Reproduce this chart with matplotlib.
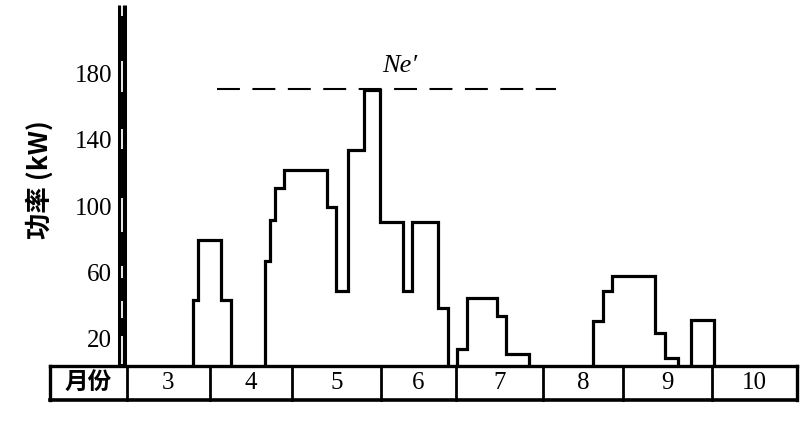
import matplotlib
matplotlib.use("Agg")
import matplotlib.pyplot as plt
from matplotlib.transforms import ScaledTranslation

# time axis in months (fractional), power in kW
B1_EDGES = [3.788, 3.848, 4.122, 4.242]
B1_VALUES = [40, 76, 40]

B2_EDGES = [4.648, 4.707, 4.767, 4.875, 5.388, 5.496, 5.639, 5.830,
            6.021, 6.296, 6.403, 6.713, 6.833]
B2_VALUES = [63, 88, 107, 118, 96, 45, 130, 166, 87, 45, 87, 35]

B3_EDGES = [6.940, 7.060, 7.418, 7.525, 7.800]
B3_VALUES = [10, 41, 30, 7]

B4_EDGES = [8.564, 8.684, 8.791, 9.304, 9.424, 9.579]
B4_VALUES = [27, 45, 54, 20, 5]

B5_EDGES = [9.734, 10.009]
B5_VALUES = [28]

NE_VALUE = 167
NE_SPAN = [4.075, 8.122]

TABLE_EDGES = [2.081, 3.0, 3.991, 4.970, 6.033, 6.928, 7.967, 8.922, 9.985, 11.0]
TABLE_LABELS = ["月份", "3", "4", "5", "6", "7", "8", "9", "10"]

Y_TICKS = [20, 60, 100, 140, 180]
AXIS_GAPS = [(1, 18), (29, 39), (53, 60), (81, 101), (131, 143), (165, 184), (211, 218)]

SERIF = ["Liberation Serif", "DejaVu Serif"]
CJK = ["Noto Sans CJK SC", "DejaVu Sans"]

fig = plt.figure(figsize=(8.01, 4.25), dpi=100)
ax = fig.add_axes([122 / 801, (425 - 366) / 425, (797 - 122) / 801, (366 - 5) / 425])
ax.set_xlim(2.9403, 11.0)
ax.set_ylim(0, 217.5)

for s in ["top", "right", "bottom"]:
    ax.spines[s].set_visible(False)
ax.spines["left"].set_linewidth(6.5)
ax.spines["left"].set_color("black")
ax.spines["left"].set_capstyle("butt")

# white slits in the thick axis bar
for lo, hi in AXIS_GAPS:
    ax.plot([0, 0], [lo, hi], color="white", lw=1.3,
            transform=ax.get_yaxis_transform(), clip_on=False, zorder=5,
            solid_capstyle="butt")

ax.set_xticks([])
ax.set_yticks(Y_TICKS)
ax.set_yticklabels([str(t) for t in Y_TICKS], fontfamily=SERIF, fontsize=18)
ax.tick_params(axis="y", length=0, pad=7)
offset = ScaledTranslation(0, -6 / 100, fig.dpi_scale_trans)
for lab in ax.get_yticklabels():
    lab.set_transform(lab.get_transform() + offset)

# load curve
for edges, vals in [(B1_EDGES, B1_VALUES), (B2_EDGES, B2_VALUES), (B3_EDGES, B3_VALUES),
                    (B4_EDGES, B4_VALUES), (B5_EDGES, B5_VALUES)]:
    ax.stairs(vals, edges, baseline=0, fill=False, color="black", lw=2.3,
              joinstyle="miter", zorder=3)

# installed capacity line
ax.plot(NE_SPAN, [NE_VALUE, NE_VALUE], color="black", lw=1.5, dashes=(11, 6))
ax.text(6.26, 181, "Ne\u2032", fontfamily=SERIF, fontstyle="italic", fontsize=19,
        ha="center", va="center")

# month table under the axis
t_bot = -20.5
kw = dict(color="black", clip_on=False, solid_capstyle="projecting")
ax.plot([TABLE_EDGES[0], TABLE_EDGES[-1]], [0, 0], lw=2.4, **kw)
ax.plot([TABLE_EDGES[0], TABLE_EDGES[-1]], [t_bot, t_bot], lw=2.6, **kw)
for i, e in enumerate(TABLE_EDGES):
    ax.plot([e, e], [0, t_bot], lw=2.4 if i in (0, len(TABLE_EDGES) - 1) else 2.0, **kw)
for i, lab in enumerate(TABLE_LABELS):
    cx = (TABLE_EDGES[i] + TABLE_EDGES[i + 1]) / 2
    fam = CJK if i == 0 else SERIF
    ax.text(cx, t_bot / 2, lab, fontfamily=fam, fontsize=18 if i else 17,
            ha="center", va="center", clip_on=False,
            fontweight="bold" if i == 0 else "normal")

fig.text(40 / 801, 1 - 180 / 425, "功率 (kW)", rotation=90, fontfamily=CJK,
         fontsize=19, fontweight="bold", ha="center", va="center")

fig.savefig("out.png", dpi=100)
